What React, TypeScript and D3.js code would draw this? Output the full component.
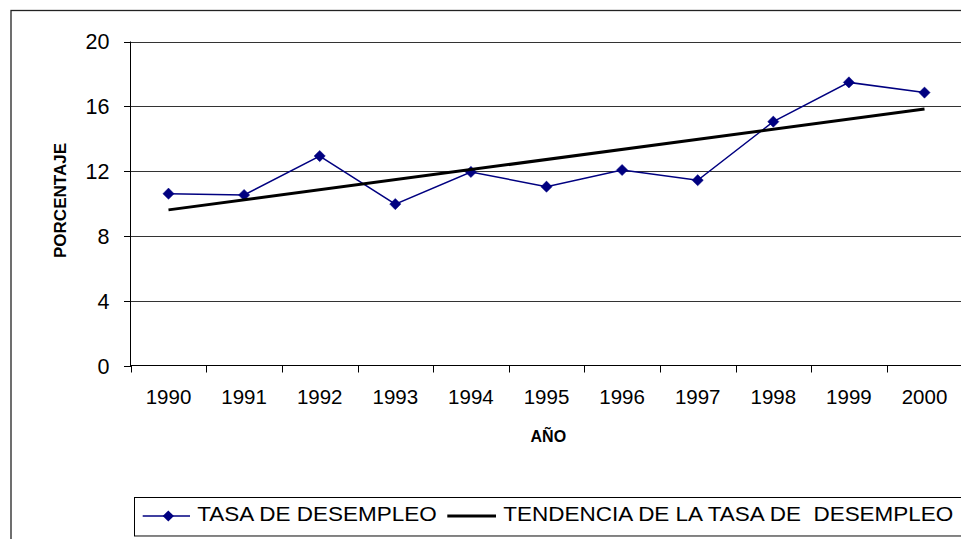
import React from "react";
import * as d3 from "d3";

const years = ["1990","1991","1992","1993","1994","1995","1996","1997","1998","1999","2000"];
const tasa = [10.62, 10.54, 12.94, 9.98, 11.96, 11.05, 12.08, 11.45, 15.06, 17.48, 16.85];
const yTicks = [0, 4, 8, 12, 16, 20];
const seriesNames = ["TASA DE DESEMPLEO", "TENDENCIA DE LA TASA DE  DESEMPLEO"];
const yTitle = "PORCENTAJE";
const xTitle = "AÑO";

const W = 961, H = 539;
const NAVY = "#000080";
const FONT = "Arial, 'Liberation Sans', Helvetica, sans-serif";

export default function App() {
  const x = d3.scaleBand<string>().domain(years).range([130.7, 962.3]).padding(0);
  const y = d3.scaleLinear().domain([0, 20]).range([366, 41.5]);
  const cx = (d: string) => (x(d) as number) + x.bandwidth() / 2;

  // least-squares trend (Excel linear trendline)
  const n = tasa.length;
  const xs = tasa.map((_, i) => i);
  const mx = d3.mean(xs) as number;
  const my = d3.mean(tasa) as number;
  const sxy = d3.sum(xs.map((xi, i) => (xi - mx) * (tasa[i] - my)));
  const sxx = d3.sum(xs.map((xi) => (xi - mx) * (xi - mx)));
  const slope = sxy / sxx;
  const icpt = my - slope * mx;
  const trend = [0, n - 1].map((i) => ({ yr: years[i], v: icpt + slope * i }));

  const line = d3.line<number>().x((_, i) => cx(years[i])).y((v) => y(v));
  const tline = d3.line<{ yr: string; v: number }>().x((d) => cx(d.yr)).y((d) => y(d.v));

  const diamond = (px: number, py: number, r = 5.6) =>
    `M${px},${py - r}L${px + r},${py}L${px},${py + r}L${px - r},${py}Z`;

  const x0 = 130.7, x1 = 962.3;
  const bounds = years.map((d) => x(d) as number);

  return (
    <svg width={W} height={H} style={{ position: "absolute", left: 0, top: 0, display: "block" }} fontFamily={FONT}>
      <rect x={0} y={0} width={W} height={H} fill="#fff" />
      {/* outer chart frame */}
      <rect x={11} y={10.5} width={W + 20} height={H + 20} fill="none" stroke="#222" strokeWidth={1.3} />

      {/* gridlines */}
      {yTicks.filter((t) => t > 0).map((t) => (
        <line key={t} x1={x0} x2={x1} y1={Math.round(y(t)) + 0.5} y2={Math.round(y(t)) + 0.5} stroke="#333" strokeWidth={1} />
      ))}

      {/* y axis */}
      <line x1={130.5} x2={130.5} y1={41.5} y2={366.5} stroke="#000" strokeWidth={1} />
      {yTicks.map((t) => (
        <g key={t}>
          <line x1={124} x2={131} y1={Math.round(y(t)) + 0.5} y2={Math.round(y(t)) + 0.5} stroke="#000" />
          <text x={109.5} y={y(t)} dy="0.36em" textAnchor="end" fontSize={21.5} fill="#000">{t}</text>
        </g>
      ))}

      {/* x axis */}
      <line x1={x0} x2={x1} y1={365.5} y2={365.5} stroke="#000" strokeWidth={1} />
      {bounds.concat([x1]).map((b, i) => (
        <line key={i} x1={Math.round(b) + 0.5} x2={Math.round(b) + 0.5} y1={365.5} y2={372.5} stroke="#000" />
      ))}
      {years.map((d) => (
        <text key={d} x={cx(d)} y={404.3} textAnchor="middle" fontSize={20.5} fill="#000">{d}</text>
      ))}

      {/* axis titles */}
      <text x={548.3} y={441.7} textAnchor="middle" fontSize={16} fontWeight="bold" fill="#000">{xTitle}</text>
      <text transform="translate(66,200.5) rotate(-90)" textAnchor="middle" fontSize={16.5} fontWeight="bold" fill="#000"
        textLength={115} lengthAdjust="spacingAndGlyphs">{yTitle}</text>

      {/* data series */}
      <path d={line(tasa) as string} fill="none" stroke={NAVY} strokeWidth={1.5} />
      {tasa.map((v, i) => (
        <path key={i} d={diamond(cx(years[i]), y(v))} fill={NAVY} stroke={NAVY} strokeWidth={0.5} />
      ))}
      {/* trend line */}
      <path d={tline(trend) as string} fill="none" stroke="#000" strokeWidth={3} />

      {/* legend */}
      <rect x={134.5} y={497.5} width={W} height={38.5} fill="#fff" stroke="#000" strokeWidth={1} />
      <line x1={134.5} x2={W} y1={536.5} y2={536.5} stroke="#888" strokeWidth={1} />
      <line x1={142.7} x2={190} y1={516} y2={516} stroke={NAVY} strokeWidth={1.6} />
      <path d={diamond(168.3, 516)} fill={NAVY} />
      <text x={197.3} y={520.7} fontSize={19.5} fill="#000" textLength={239.4} lengthAdjust="spacingAndGlyphs">{seriesNames[0]}</text>
      <line x1={447.3} x2={496} y1={516} y2={516} stroke="#000" strokeWidth={3} />
      <text x={503.3} y={520.7} fontSize={19.5} fill="#000" textLength={450} lengthAdjust="spacingAndGlyphs" style={{ whiteSpace: "pre" }}>{seriesNames[1]}</text>
    </svg>
  );
}
